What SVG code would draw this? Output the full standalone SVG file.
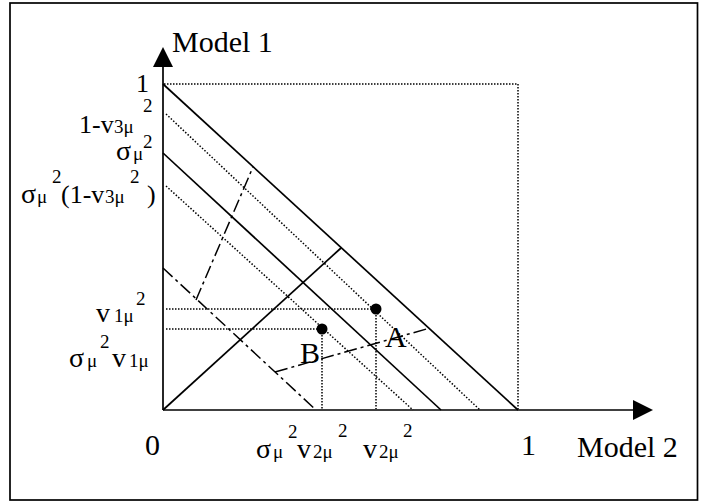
<svg xmlns="http://www.w3.org/2000/svg" width="703" height="503" viewBox="0 0 703 503">
<style>
.solid{stroke:#000;stroke-width:1.7;fill:none}
.dot{stroke:#000;stroke-width:1.5;fill:none;stroke-dasharray:1.5 1.5}
.ddot{stroke:#000;stroke-width:1.5;fill:none;stroke-dasharray:1.5 1.8}
.dd{stroke:#000;stroke-width:1.5;fill:none;stroke-dasharray:13 4 3 4}
text{font-family:"Liberation Serif","Times New Roman",serif;fill:#000}
.m{font-size:30px}
.b{font-size:26px}
.g{font-size:28px}
.s{font-size:19px}
</style>
<rect x="10" y="3" width="687.5" height="497" fill="#fff" stroke="#000" stroke-width="1.7"/>
<g id="connectors">
<line class="solid" x1="163" y1="410" x2="163" y2="66"/>
<polygon points="163,47 153,67 173,67" fill="#000"/>
<line class="solid" x1="163" y1="410" x2="634" y2="410"/>
<polygon points="653,410 633,400 633,420" fill="#000"/>
<polyline class="dot" points="164,84 518,84 518,409"/>
<line class="solid" x1="163" y1="84" x2="518" y2="410"/>
<line class="solid" x1="163" y1="153" x2="441" y2="410"/>
<line class="solid" x1="163" y1="410" x2="341" y2="248"/>
<line class="ddot" x1="166" y1="114" x2="480" y2="410"/>
<line class="ddot" x1="166" y1="186" x2="413" y2="410"/>
<line class="dot" x1="166" y1="309" x2="376" y2="309"/>
<line class="dot" x1="166" y1="329" x2="322" y2="329"/>
<line class="dot" x1="376" y1="309" x2="376" y2="409"/>
<line class="dot" x1="322" y1="329" x2="322" y2="409"/>
<line class="dd" x1="196" y1="300" x2="253" y2="167"/>
<line class="dd" x1="163" y1="268" x2="316" y2="410"/>
<line class="dd" x1="275" y1="372" x2="430" y2="328"/>
</g>
<g id="pointA">
<circle cx="376" cy="309" r="5.5" fill="#000"/>
<text class="m" x="385" y="347">A</text>
</g>
<g id="pointB">
<circle cx="322" cy="329" r="5.5" fill="#000"/>
<text class="m" x="300" y="363">B</text>
</g>
<g id="axis-labels">
<text class="m" x="172" y="52">Model 1</text>
<text class="m" x="577" y="457">Model 2</text>
<text class="m" x="145" y="455">0</text>
<text class="m" x="521" y="455">1</text>
<text class="b" x="136" y="92">1</text>
<text class="s" x="143" y="112">2</text>
<text><tspan class="b" x="79" y="133">1-v</tspan><tspan class="s" x="114" y="133">3μ</tspan></text>
<text class="s" x="143" y="148">2</text>
<text><tspan class="g" x="116" y="160">σ</tspan><tspan class="s" x="133" y="160">μ</tspan></text>
<text><tspan class="g" x="21" y="203">σ</tspan><tspan class="s" x="37" y="203">μ</tspan><tspan class="s" x="52" y="183">2</tspan><tspan class="b" x="61" y="203">(1-v</tspan><tspan class="s" x="105" y="203">3μ</tspan><tspan class="s" x="130" y="183">2</tspan><tspan class="b" x="147" y="203">)</tspan></text>
<text><tspan class="g" x="96" y="322">v</tspan><tspan class="s" x="114" y="322">1μ</tspan><tspan class="s" x="136" y="305">2</tspan></text>
<text><tspan class="g" x="69" y="367">σ</tspan><tspan class="s" x="87" y="367">μ</tspan><tspan class="s" x="100" y="348">2</tspan><tspan class="g" x="112" y="367">v</tspan><tspan class="s" x="129" y="367">1μ</tspan></text>
<text><tspan class="g" x="256" y="458">σ</tspan><tspan class="s" x="273" y="458">μ</tspan><tspan class="s" x="288" y="438">2</tspan><tspan class="g" x="297" y="458">v</tspan><tspan class="s" x="313" y="458">2μ</tspan><tspan class="s" x="338" y="437">2</tspan></text>
<text><tspan class="g" x="363" y="458">v</tspan><tspan class="s" x="379" y="458">2μ</tspan><tspan class="s" x="403" y="437">2</tspan></text>
</g>
</svg>
